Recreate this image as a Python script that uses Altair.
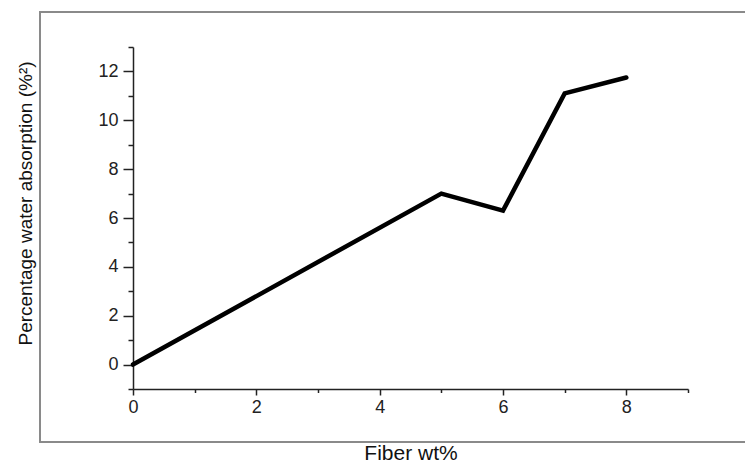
import altair as alt
import pandas as pd

fiber_wt = [0, 5, 6, 7, 8]
water_absorption = [0.0, 7.0, 6.3, 11.1, 11.75]

x_ticks = list(range(0, 10))
y_ticks = list(range(-1, 14))

df = pd.DataFrame({"fiber": fiber_wt, "absorption": water_absorption})

FONT = "Liberation Sans"

x_axis = alt.Axis(
    title="Fiber wt%",
    values=x_ticks,
    labelExpr="datum.value % 2 === 0 ? datum.label : ''",
    tickSize={"condition": {"test": "datum.value % 2 !== 0", "value": 3.5}, "value": 6},
    tickColor="#222", tickWidth=1.5,
    domainColor="#222", domainWidth=1.5,
    labelFont=FONT, labelFontSize=18, labelColor="#222", labelPadding=3,
    labelFlush=False, labelOverlap=False,
    titleFont=FONT, titleFontSize=21, titleFontWeight="normal", titleColor="#111",
    titleY=70, titleBaseline="alphabetic",
    grid=False,
)

y_axis = alt.Axis(
    title="Percentage water absorption (%²)",
    values=y_ticks,
    labelExpr="datum.value % 2 === 0 && datum.value >= 0 ? datum.label : ''",
    tickSize={"condition": {"test": "datum.value % 2 !== 0", "value": 5}, "value": 10},
    tickColor="#222", tickWidth=1.5,
    domainColor="#222", domainWidth=1.5,
    labelFont=FONT, labelFontSize=18, labelColor="#222", labelPadding=5,
    labelOverlap=False, labelFlush=False,
    titleFont=FONT, titleFontSize=19, titleFontWeight="normal", titleColor="#111",
    titleX=-108, titleY=156, titleAlign="center", titleBaseline="middle", titleAngle=270,
    grid=False,
)

frame = alt.Chart(df).mark_rect(fill=None, stroke="#8a8a8a", strokeWidth=1.5).encode(
    x=alt.value(-93), x2=alt.value(640), y=alt.value(-35), y2=alt.value(395)
)

line = alt.Chart(df).mark_line(
    color="black", strokeWidth=4.5, strokeCap="round", strokeJoin="miter"
).encode(
    x=alt.X("fiber:Q", scale=alt.Scale(domain=[0, 9], nice=False, zero=False), axis=x_axis),
    y=alt.Y("absorption:Q", scale=alt.Scale(domain=[-1, 13], nice=False, zero=False), axis=y_axis),
)

chart = alt.layer(frame, line).properties(
    width=555, height=342,
    background="white",
    autosize=alt.AutoSizeParams(type="none"),
    padding={"left": 133, "top": 47, "right": 57, "bottom": 74},
).configure_view(strokeWidth=0)

chart.save("out.html", embed_options={"renderer": "svg", "actions": False})
